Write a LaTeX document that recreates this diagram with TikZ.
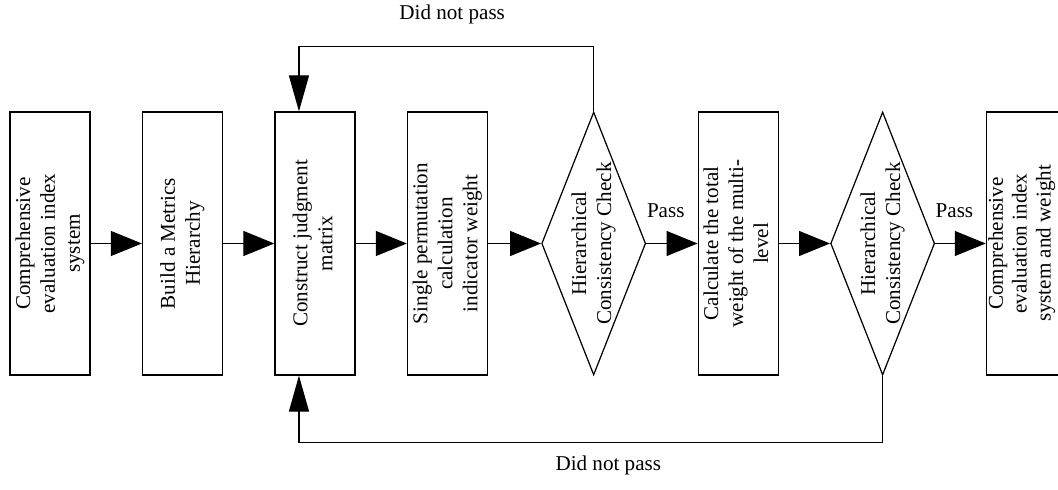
\documentclass[tikz,border=0pt]{standalone}
\usepackage{fontspec}
\setmainfont{Liberation Serif}
\usetikzlibrary{arrows.meta,positioning,shapes.geometric}
\newcommand{\vtext}[1]{\rotatebox{90}{\begin{tabular}{@{}c@{}}#1\end{tabular}}}

\begin{document}
\begin{tikzpicture}
		[font=\fontsize{12}{14.2}\selectfont, line width=0.7pt,
		stepbox/.style	= {draw, rectangle, line width=0.7pt, inner sep=0pt, minimum width=16mm, minimum height=52.6mm},
		check/.style	= {draw, diamond, line width=0.7pt, inner sep=0pt, minimum width=20.8mm, minimum height=52.6mm},
		htip/.style		= {-{Triangle[length=6.2mm, width=5mm]}},
		vtip/.style		= {-{Triangle[length=7.2mm, width=4mm]}}]
		
		\useasboundingbox (0,0) rectangle (211.6mm,97.8mm);
		\clip (0,0) rectangle (211.6mm,97.8mm);
		
		\node [stepbox]	at (10mm,49.1mm)		(1)	{\vtext{Comprehensive\\evaluation index\\system}};
		\node [stepbox]	[right = 10.25mm of 1]	(2)	{\vtext{Build a Metrics\\Hierarchy}};
		\node [stepbox]	[right = 10.25mm of 2]	(3)	{\vtext{Construct judgment\\matrix}};
		\node [stepbox]	[right = 10.25mm of 3]	(4)	{\vtext{Single permutation\\calculation\\indicator weight}};
		\node [check]	[right = 10.6mm of 4]	(5)	{};
		\node			at (5)					(5t) {\vtext{Hierarchical\\Consistency Check}};
		\node [stepbox]	[right = 10.25mm of 5]	(6)	{\vtext{Calculate the total\\weight of the multi-\\level}};
		\node [check]	[right = 10.25mm of 6]	(7)	{};
		\node			at (7)					(7t) {\vtext{Hierarchical\\Consistency Check}};
		\node [stepbox]	[right = 10.1mm of 7]	(8)	{};
		\node [font=\fontsize{12}{13.6}\selectfont]	at ([xshift=-0.9mm]8.center) (8t) {\vtext{Comprehensive\\evaluation index\\system and weight}};
		
		\coordinate (t3) at ([xshift=-3.2mm]3.north);
		\coordinate (b3) at ([xshift=-3.2mm]3.south);
		
		\draw [htip] (1) -- (2);
		\draw [htip] (2) -- (3);
		\draw [htip] (3) -- (4);
		\draw [htip] (4) -- (5);
		\draw [htip] (5) -- node [pos=0.38, above=3.8mm] (p1) {Pass} (6);
		\draw [htip] (6) -- (7);
		\draw [htip] (7) -- node [pos=0.38, above=3.8mm] (p2) {Pass} (8);
		
		% loops back to the judgment matrix
		\draw [vtip] (5.north) |- node [pos=0.74, above=3.1mm] (np1) {Did not pass} ([yshift=13mm]t3) -- (t3);
		\draw [vtip] (7.south) |- node [pos=0.735, below=1.3mm] (np2) {Did not pass} ([yshift=-13.4mm]b3) -- (b3);
		\end{tikzpicture}
\end{document}
